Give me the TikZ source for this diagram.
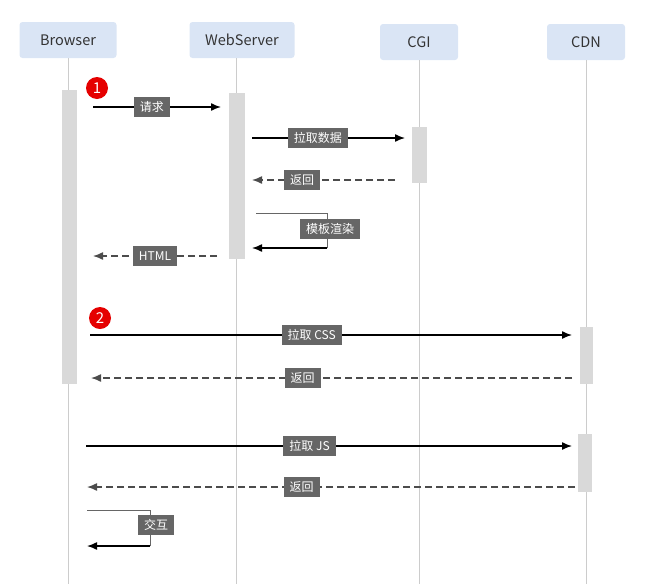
\documentclass[tikz,border=0pt]{standalone}
\usepackage{fontspec}
\setmainfont{Noto Sans CJK SC}
\usetikzlibrary{arrows.meta}
\definecolor{headblue}{HTML}{DAE5F5}
\definecolor{lblgray}{HTML}{666666}
\begin{document}
\begin{tikzpicture}[x=1pt, y=-1pt,
	actor/.style = {fill=headblue, rounded corners=3pt, minimum height=36pt, text=black!80, font=\fontsize{14.5}{16}\selectfont},
	life/.style = {draw=black!20, line width=0.7pt},
	bar/.style = {fill=black!15},
	lbl/.style = {fill=lblgray, text=white, inner xsep=6pt, inner ysep=3pt, minimum height=20pt, font=\fontsize{12}{13}\selectfont},
	msg/.style = {-{Latex[length=10pt,width=8pt]}, line width=1.4pt},
	ret/.style = {msg, dash pattern=on 7pt off 4pt, black!70},
	loop/.style = {black!60, line width=0.8pt},
	badge/.style = {circle, fill=red!90!black, text=white, inner sep=0pt, minimum size=22pt, font=\fontsize{15}{15}\selectfont}]
	\useasboundingbox (0,0) rectangle (663,584);
	% participants
	\node[actor, minimum width=97pt] (browser) at (68,40) {Browser};
	\node[actor, minimum width=105pt] (webserver) at (242,40) {WebServer};
	\node[actor, minimum width=78pt] (cgi) at (419,42) {CGI};
	\node[actor, minimum width=78pt] (cdn) at (586,42) {CDN};
	% lifelines
	\draw[life] (68,58) -- (68,584);
	\draw[life] (236,58) -- (236,584);
	\draw[life] (419,60) -- (419,584);
	\draw[life] (586,60) -- (586,584);
	% activations
	\fill[bar] (62,90) rectangle (77,384);
	\fill[bar] (229,93) rectangle (245,259);
	\fill[bar] (412,127) rectangle (427,183);
	\fill[bar] (580,327) rectangle (593,384);
	\fill[bar] (578,434) rectangle (592,492);
	% steps
	\node[badge] (one) at (97,88) {1};
	\node[badge] (two) at (100,318) {2};
	% page request
	\coordinate (req1) at (93,107);   \coordinate (req2) at (221,107);
	\coordinate (dat1) at (252,138);  \coordinate (dat2) at (405,138);
	\coordinate (ret1) at (395,180);  \coordinate (ret2) at (252,180);
	\coordinate (tpl1) at (256,213);  \coordinate (tpl2) at (327,248); \coordinate (tpl3) at (252,248);
	\coordinate (htm1) at (217,256);  \coordinate (htm2) at (93,256);
	\draw[msg] (req1) -- node[lbl, pos=0.46] (lreq) {请求} (req2);
	\draw[msg] (dat1) -- node[lbl, pos=0.43] (ldat) {拉取数据} (dat2);
	\draw[ret] (ret1) -- node[lbl, pos=0.65] (lret) {返回} (ret2);
	\draw[loop] (tpl1) -| (tpl2);
	\draw[msg] (tpl2) -- (tpl3);
	\node[lbl] (ltpl) at (330,229) {模板渲染};
	\draw[ret] (htm1) -- node[lbl, pos=0.5] (lhtm) {HTML} (htm2);
	% static resources
	\coordinate (css1) at (90,335);   \coordinate (css2) at (572,335);
	\coordinate (cr1) at (572,378);   \coordinate (cr2) at (91,378);
	\coordinate (js1) at (86,446);    \coordinate (js2) at (572,446);
	\coordinate (jr1) at (575,487);   \coordinate (jr2) at (87,487);
	\coordinate (act1) at (87,510);   \coordinate (act2) at (150,546); \coordinate (act3) at (87,546);
	\draw[msg] (css1) -- node[lbl, pos=0.46] (lcss) {拉取 CSS} (css2);
	\draw[ret] (cr1) -- node[lbl, pos=0.56] (lcr) {返回} (cr2);
	\draw[msg] (js1) -- node[lbl, pos=0.46] (ljs) {拉取 JS} (js2);
	\draw[ret] (jr1) -- node[lbl, pos=0.56] (ljr) {返回} (jr2);
	\draw[loop] (act1) -| (act2);
	\draw[msg] (act2) -- (act3);
	\node[lbl] (lact) at (156,525) {交互};
\end{tikzpicture}
\end{document}
